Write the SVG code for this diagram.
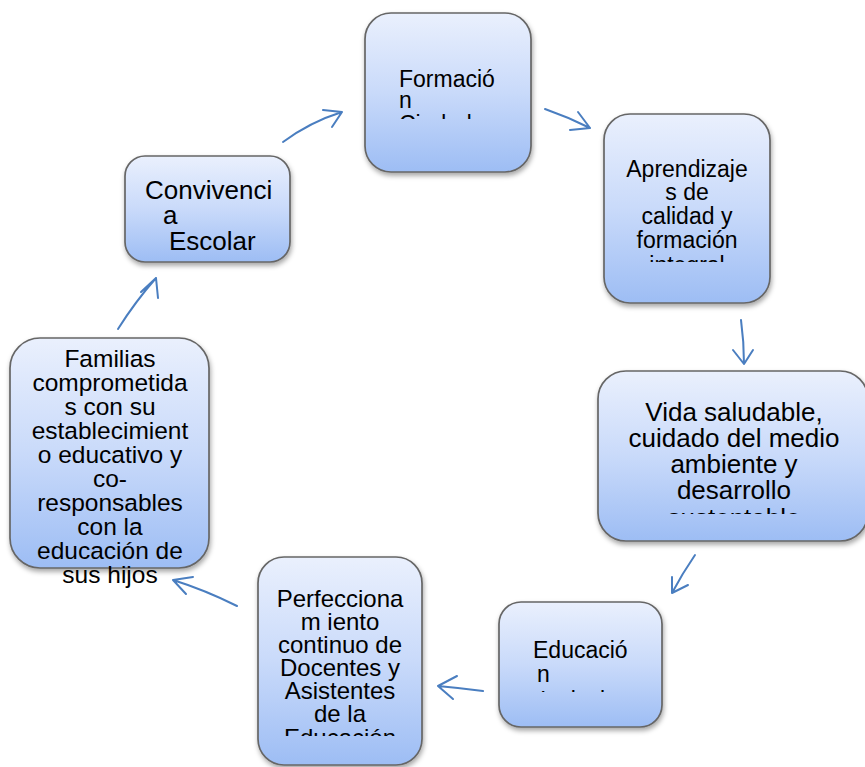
<svg xmlns="http://www.w3.org/2000/svg" width="865" height="767" viewBox="0 0 865 767">
<defs>
<linearGradient id="g" x1="0" y1="0" x2="0" y2="1">
<stop offset="0" stop-color="#eaf0fd"/>
<stop offset="0.5" stop-color="#c9dafa"/>
<stop offset="1" stop-color="#9dbdf4"/>
</linearGradient>
<filter id="sh" x="-10%" y="-10%" width="125%" height="125%">
<feDropShadow dx="1" dy="3" stdDeviation="2.5" flood-color="#000" flood-opacity="0.35"/>
</filter>
<clipPath id="c1"><rect x="360" y="10" width="180" height="109"/></clipPath>
<clipPath id="c2"><rect x="600" y="110" width="180" height="152"/></clipPath>
<clipPath id="c3"><rect x="595" y="365" width="270" height="149"/></clipPath>
<clipPath id="c4"><rect x="495" y="600" width="170" height="92"/></clipPath>
<clipPath id="c5"><rect x="255" y="550" width="170" height="186"/></clipPath>
</defs>
<style>
.box{fill:url(#g);stroke:#666;stroke-width:1.7;filter:url(#sh)}
text{font-family:"Liberation Sans",Arial,Helvetica,sans-serif;fill:#000}
.m{text-anchor:middle}
.arr{fill:none;stroke:#4a7ec0;stroke-width:2;stroke-linecap:round;stroke-linejoin:round}
</style>

<g id="connectors">
<path class="arr" d="M283,142 Q310,122 342,112 M323,110 L342,112 L332,127"/>
<path class="arr" d="M545,109 Q568,117 590,128 M578,112 L590,128 L570,130"/>
<path class="arr" d="M741,320 Q744,342 744,364 M733,350 L744,364 L753,350"/>
<path class="arr" d="M695,555 Q682,574 672,593 M672,577 L672,593 L688,585"/>
<path class="arr" d="M483,691 Q460,688 438,686 M457,676 L438,686 L453,699"/>
<path class="arr" d="M237,606 Q205,590 173,580 M193,577 L173,580 L186,594"/>
<path class="arr" d="M118,329 Q135,302 156,278 M141,292 L156,278 L158,298"/>
</g>

<g id="n1">
<rect class="box" x="365" y="13" width="166" height="159" rx="26"/>
<g clip-path="url(#c1)" font-size="23">
<text x="399" y="87">Formació</text>
<text x="399" y="108">n</text>
<text x="399" y="132">Ciudadana</text>
</g>
</g>

<g id="n2">
<rect class="box" x="604" y="114" width="166" height="189" rx="26"/>
<g clip-path="url(#c2)" font-size="23">
<text class="m" x="687" y="177">Aprendizaje</text>
<text class="m" x="687" y="200">s de</text>
<text class="m" x="687" y="224">calidad y</text>
<text class="m" x="687" y="248">formación</text>
<text class="m" x="687" y="273">integral</text>
</g>
</g>

<g id="n3">
<rect class="box" x="598" y="371" width="270" height="170" rx="28"/>
<g clip-path="url(#c3)" font-size="26">
<text class="m" x="734" y="421">Vida saludable,</text>
<text class="m" x="734" y="447">cuidado del medio</text>
<text class="m" x="734" y="473">ambiente y</text>
<text class="m" x="734" y="499">desarrollo</text>
<text class="m" x="734" y="527">sustentable</text>
</g>
</g>

<g id="n4">
<rect class="box" x="499" y="602" width="163" height="125" rx="22"/>
<g clip-path="url(#c4)" font-size="23">
<text x="533" y="658">Educació</text>
<text x="537" y="682">n</text>
<text x="540" y="708">Inclusiva</text>
</g>
</g>

<g id="n5">
<rect class="box" x="258" y="557" width="164" height="208" rx="26"/>
<g clip-path="url(#c5)" font-size="24">
<text class="m" x="340" y="607">Perfecciona</text>
<text class="m" x="340" y="630">m iento</text>
<text class="m" x="340" y="653">continuo de</text>
<text class="m" x="340" y="676">Docentes y</text>
<text class="m" x="340" y="699">Asistentes</text>
<text class="m" x="340" y="722">de la</text>
<text class="m" x="340" y="746">Educación</text>
</g>
</g>

<g id="n6">
<rect class="box" x="10" y="338" width="199" height="230" rx="30"/>
<g font-size="24.5">
<text class="m" x="110" y="367">Familias</text>
<text class="m" x="110" y="391">comprometida</text>
<text class="m" x="110" y="415">s con su</text>
<text class="m" x="110" y="439">establecimient</text>
<text class="m" x="110" y="463">o educativo y</text>
<text class="m" x="110" y="487">co-</text>
<text class="m" x="110" y="511">responsables</text>
<text class="m" x="110" y="535">con la</text>
<text class="m" x="110" y="559">educación de</text>
<text class="m" x="110" y="583">sus hijos</text>
</g>
</g>

<g id="n7">
<rect class="box" x="125" y="156" width="165" height="106" rx="20"/>
<g font-size="26">
<text x="145" y="199">Convivenci</text>
<text x="163" y="224">a</text>
<text x="169" y="250">Escolar</text>
</g>
</g>
</svg>
